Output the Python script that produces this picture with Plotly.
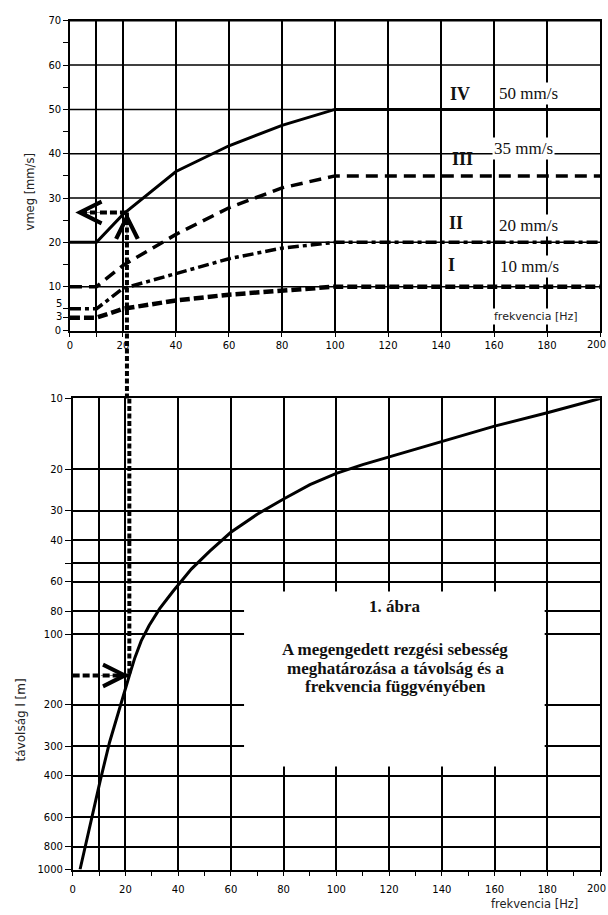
import math
import plotly.graph_objects as go

# ---------------- data: top chart (permitted vibration velocity) ----------------
FREQ_LIMITS = [0, 10, 20, 40, 60, 80, 100, 200]
V_CLASS_IV = [20, 20, 26.3, 36, 41.8, 46.4, 50, 50]
V_CLASS_III = [10, 10, 14.8, 21.8, 27.8, 32.3, 35, 35]
V_CLASS_II = [5, 5, 9.6, 12.9, 16.3, 18.7, 20, 20]
V_CLASS_I = [3, 3, 5, 6.9, 8.2, 9.1, 10, 10]
CLASS_NAMES = ["IV", "III", "II", "I"]
CLASS_LIMITS = ["50 mm/s", "35 mm/s", "20 mm/s", "10 mm/s"]

# ---------------- data: bottom chart (distance vs frequency) ----------------
CURVE_FREQ = [2.8, 4.8, 6.8, 10.5, 14, 18.5, 21.5, 23.6, 26, 29, 33, 38, 45, 52, 60,
              70, 80, 90, 100, 110, 120, 140, 160, 180, 200]
CURVE_DIST = [1000, 794, 631, 417, 288, 193, 150, 126, 107, 92, 78, 66, 53, 44.5, 37,
              31, 26.7, 23.2, 20.8, 19.1, 17.7, 15.2, 13.1, 11.5, 10]

# reading example (arrows)
READ_FREQ = 21.5
READ_VEL = 26.75
READ_DIST = 150
READ_VEL_END = 5
READ_VEL_TIP = 2

# ---------------- axis ticks ----------------
FREQ_GRID = [0, 10, 20, 40, 60, 80, 100, 120, 140, 160, 180, 200]
FREQ_LABELS = ["0", "", "20", "40", "60", "80", "100", "120", "140", "160", "180", "200"]
FREQ_MINOR = [30, 50, 70, 90, 110, 130, 150, 170, 190]
VEL_TICKS = [0, 3, 5, 10, 15, 20, 25, 30, 35, 40, 45, 50, 55, 60, 65, 70]
VEL_LABELS = ["0", "", "", "10", "", "20", "", "30", "", "40", "", "50", "", "60", "", "70"]
VEL_SMALL_LABELS = [5, 3]
VEL_GRID = [10, 20, 30, 40, 50, 60, 70]
DIST_TICKS = [10, 20, 30, 40, 50, 60, 80, 100, 200, 300, 400, 600, 800, 1000]
DIST_LABELS = ["10", "20", "30", "40", "", "60", "80", "100", "200", "300", "400", "600", "800", "1000"]

# text box in the bottom chart
BOX_FREQ = [65, 179]
BOX_DIST = [66, 365]
BOX_TITLE = "1. ábra"
BOX_LINES = ["A megengedett rezgési sebesség",
             "meghatározása a távolság és a",
             "frekvencia függvényében"]

# ---------------- layout geometry ----------------
W, H = 608, 915
TOP_X_DOM = [67.3 / W, 600 / W]
TOP_Y_DOM = [1 - 329.3 / H, 1 - 15 / H]
BOT_X_DOM = [70 / W, 600 / W]
BOT_Y_DOM = [1 - 875 / H, 1 - 397.7 / H]

SANS = "DejaVu Sans"
SERIF = "Liberation Serif"
TICKFONT = dict(family=SANS, size=10, color="black")

fig = go.Figure()

styles = [
    dict(width=3, dash="solid"),
    dict(width=3.5, dash="12px,7px"),
    dict(width=3.5, dash="11px,4px,4px,4px"),
    dict(width=4.5, dash="10px,4px"),
]
for name, vals, st in zip(CLASS_NAMES, [V_CLASS_IV, V_CLASS_III, V_CLASS_II, V_CLASS_I], styles):
    fig.add_trace(go.Scatter(x=FREQ_LIMITS, y=vals, mode="lines", name=name,
                             line=dict(color="black", **st), xaxis="x", yaxis="y",
                             showlegend=False, hoverinfo="skip"))

# reading arrows on top chart
fig.add_trace(go.Scatter(x=[READ_FREQ, READ_VEL_END], y=[READ_VEL, READ_VEL], mode="lines",
                         line=dict(color="black", width=4, dash="7px,3px"),
                         xaxis="x", yaxis="y", showlegend=False, hoverinfo="skip"))
fig.add_trace(go.Scatter(x=[READ_FREQ, READ_FREQ], y=[READ_VEL, 0], mode="lines",
                         line=dict(color="black", width=4, dash="5px,2.5px"),
                         xaxis="x", yaxis="y", showlegend=False, hoverinfo="skip"))

# bottom chart: white text box, then curve
fig.add_trace(go.Scatter(x=[BOX_FREQ[0], BOX_FREQ[1], BOX_FREQ[1], BOX_FREQ[0], BOX_FREQ[0]],
                         y=[BOX_DIST[0], BOX_DIST[0], BOX_DIST[1], BOX_DIST[1], BOX_DIST[0]],
                         mode="lines", fill="toself", fillcolor="white",
                         line=dict(color="white", width=0),
                         xaxis="x2", yaxis="y2", showlegend=False, hoverinfo="skip"))
fig.add_trace(go.Scatter(x=CURVE_FREQ, y=CURVE_DIST, mode="lines",
                         line=dict(color="black", width=3),
                         xaxis="x2", yaxis="y2", showlegend=False, hoverinfo="skip"))
fig.add_trace(go.Scatter(x=[READ_FREQ, READ_FREQ], y=[DIST_TICKS[0], READ_DIST], mode="lines",
                         line=dict(color="black", width=4, dash="5px,2.5px"),
                         xaxis="x2", yaxis="y2", showlegend=False, hoverinfo="skip"))
fig.add_trace(go.Scatter(x=[0, READ_FREQ], y=[READ_DIST, READ_DIST], mode="lines",
                         line=dict(color="black", width=4, dash="7px,3px"),
                         xaxis="x2", yaxis="y2", showlegend=False, hoverinfo="skip"))

shapes = []
for v in VEL_GRID:
    shapes.append(dict(type="line", xref="x domain", yref="y", x0=0, x1=1, y0=v, y1=v,
                       line=dict(color="black", width=1.5), layer="below"))
# vertical reading line across the gap between the charts
shapes.append(dict(type="line", xref="x", yref="paper", x0=READ_FREQ, x1=READ_FREQ,
                   y0=BOT_Y_DOM[1], y1=TOP_Y_DOM[0],
                   line=dict(color="black", width=4, dash="5px,2.5px")))

annotations = []
arrow_kw = dict(text=" ", font=dict(size=1), showarrow=True, arrowhead=5, arrowsize=8.5,
                arrowwidth=0.5, arrowcolor="black", axref="pixel", ayref="pixel")
annotations.append(dict(x=READ_FREQ, y=READ_VEL, xref="x", yref="y", ax=0, ay=30, **arrow_kw))
annotations.append(dict(x=READ_VEL_TIP, y=READ_VEL, xref="x", yref="y", ax=30, ay=0, **arrow_kw))
annotations.append(dict(x=READ_FREQ, y=math.log10(READ_DIST), xref="x2", yref="y2",
                        ax=-30, ay=0, **arrow_kw))

# small tick labels 5 and 3 (shifted apart as in the original)
for v, sh in zip(VEL_SMALL_LABELS, [5, 1]):
    annotations.append(dict(x=0, y=v, xref="x domain", yref="y", text=str(v), showarrow=False,
                            xanchor="right", xshift=-6, yshift=sh, font=TICKFONT))

# last frequency label, cut by the right page edge in the original
for yref, sh in [("y domain", -14), ("y2 domain", -19)]:
    annotations.append(dict(x=1, y=0, xref="paper", yref=yref, text=FREQ_LABELS[-1],
                            showarrow=False, xanchor="right", yanchor="middle", yshift=sh,
                            font=TICKFONT))

name_pos = [(147.3, 53.5), (148.1, 38.8), (145.5, 24.4), (144.0, 14.8)]
lim_pos = [(172.9, 53.5), (171.0, 41.1), (172.9, 23.7), (173.2, 14.6)]
for n, (x, y) in zip(CLASS_NAMES, name_pos):
    annotations.append(dict(x=x, y=y, xref="x", yref="y", text="<b>%s</b>" % n, showarrow=False,
                            font=dict(family=SERIF, size=18, color="#111")))
for t, (x, y) in zip(CLASS_LIMITS, lim_pos):
    annotations.append(dict(x=x, y=y, xref="x", yref="y", text=t, showarrow=False,
                            bgcolor="white", font=dict(family=SERIF, size=17, color="#111")))
annotations.append(dict(x=175.9, y=3.2, xref="x", yref="y", text="frekvencia [Hz]",
                        showarrow=False, bgcolor="white",
                        font=dict(family=SANS, size=11, color="#222")))
paper_txt = dict(xref="paper", yref="paper", showarrow=False, xanchor="center", yanchor="middle")
annotations.append(dict(x=534 / W, y=1 - 910 / H, text="frekvencia [Hz]",
                        font=dict(family=SANS, size=11.5, color="#222"), **paper_txt))
annotations.append(dict(x=27 / W, y=1 - 188 / H, text="vmeg [mm/s]", textangle=-90,
                        font=dict(family=SANS, size=11.5, color="#222"), **paper_txt))
annotations.append(dict(x=18 / W, y=1 - 723 / H, text="távolság l [m]", textangle=-90,
                        font=dict(family=SANS, size=12, color="#222"), **paper_txt))
box_y = [608, 652, 671, 690]
for t, py in zip([BOX_TITLE] + BOX_LINES, box_y):
    annotations.append(dict(x=394 / W, y=1 - py / H, text="<b>%s</b>" % t,
                            font=dict(family=SERIF, size=17, color="#111"), **paper_txt))

axis_common = dict(showline=True, mirror=True, linecolor="black", linewidth=1.5,
                   zeroline=False, tickcolor="black", tickfont=TICKFONT, ticks="outside")

fig.update_layout(
    width=W, height=H, margin=dict(l=0, r=0, t=0, b=0),
    paper_bgcolor="white", plot_bgcolor="white", showlegend=False,
    xaxis=dict(domain=TOP_X_DOM, anchor="y", range=[0, 200], tickmode="array",
               tickvals=FREQ_GRID, ticktext=FREQ_LABELS, ticklen=4,
               showgrid=True, gridcolor="black", gridwidth=1.5, **axis_common),
    yaxis=dict(domain=TOP_Y_DOM, anchor="x", range=[0, 70], tickmode="array",
               tickvals=VEL_TICKS, ticktext=VEL_LABELS, ticklen=5, showgrid=False,
               **axis_common),
    xaxis2=dict(domain=BOT_X_DOM, anchor="y2", range=[0, 200], tickmode="array",
                tickvals=FREQ_GRID, ticktext=FREQ_LABELS, ticklen=5, ticklabelstandoff=5,
                minor=dict(tickvals=FREQ_MINOR, ticks="outside", ticklen=5, tickcolor="black",
                           showgrid=False),
                showgrid=True, gridcolor="black", gridwidth=1.5, **axis_common),
    yaxis2=dict(domain=BOT_Y_DOM, anchor="x2", type="log", range=[3, 1], tickmode="array",
                tickvals=DIST_TICKS, ticktext=DIST_LABELS, ticklen=6,
                showgrid=True, gridcolor="black", gridwidth=1.5, **axis_common),
    shapes=shapes, annotations=annotations,
)

fig.write_html("out.html", config={"displayModeBar": False},
               post_script="document.body.style.margin='0px';document.body.style.overflow='hidden';")
